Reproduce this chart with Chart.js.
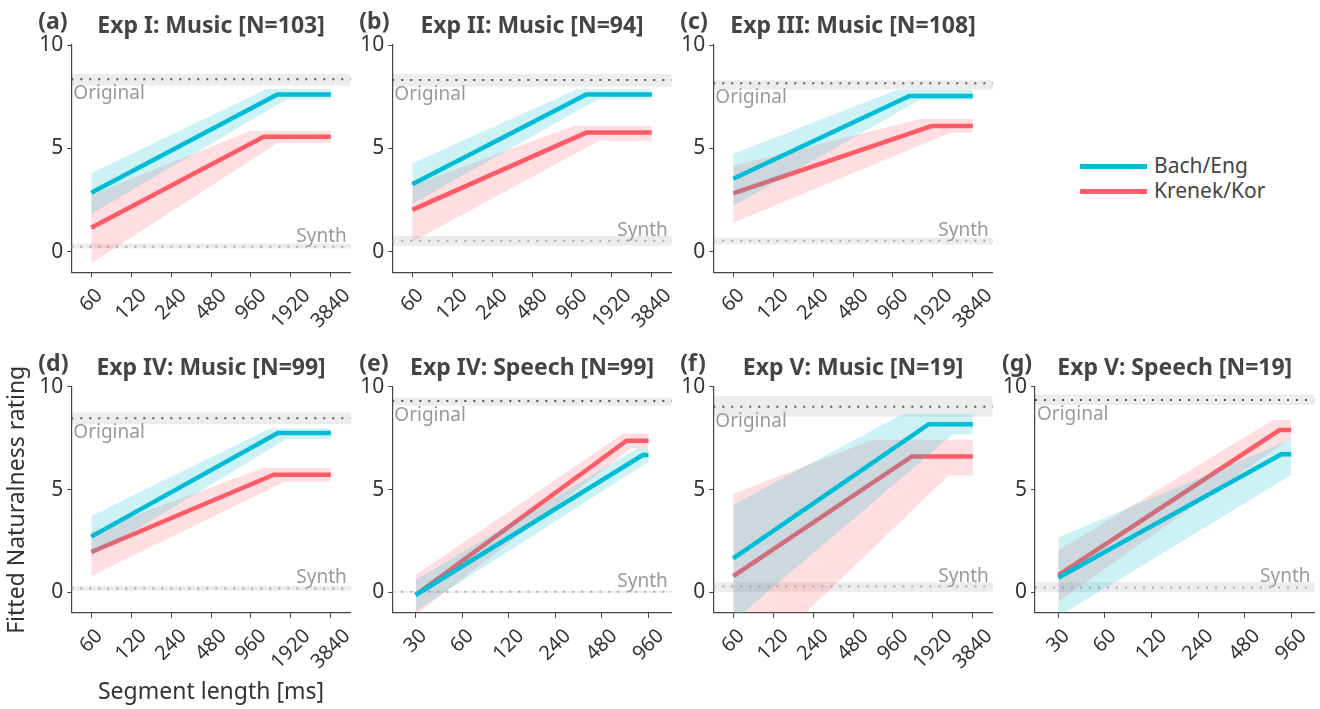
<!DOCTYPE html>
<html>
<head>
<meta charset="utf-8">
<script src="https://cdn.jsdelivr.net/npm/chart.js@4.4.1/dist/chart.umd.min.js"></script>
<style>
  body { margin: 0; width: 1320px; height: 709px; background: #fff; position: relative; overflow: hidden; font-family: 'Noto Sans', sans-serif; }
  canvas { position: absolute; }
  .key-bar { position: absolute; left: 1080px; width: 67px; height: 4.5px; }
  .key-text { position: absolute; left: 1154px; font-size: 21px; color: #444; line-height: 24px; }
</style>
</head>
<body>
<div class="key-bar" style="top:164px;background:#00bcd4"></div>
<div class="key-text" style="top:153px">Bach/Eng</div>
<div class="key-bar" style="top:189px;background:#ff5a67"></div>
<div class="key-text" style="top:178px">Krenek/Kor</div>
<script>
// tick values
const musicTicks = [60, 120, 240, 480, 960, 1920, 3840];
const speechTicks = [30, 60, 120, 240, 480, 960];
const yTicks = [0, 5, 10];

const panelLetters = ['(a)', '(b)', '(c)', '(d)', '(e)', '(f)', '(g)'];
const panelTitles = [
  'Exp I: Music [N=103]', 'Exp II: Music [N=94]', 'Exp III: Music [N=108]',
  'Exp IV: Music [N=99]', 'Exp IV: Speech [N=99]', 'Exp V: Music [N=19]', 'Exp V: Speech [N=19]'
];
const panelStimuli = ['music', 'music', 'music', 'music', 'speech', 'music', 'speech'];

// reference levels (mean and band)
const originalMean = [8.34, 8.31, 8.15, 8.46, 9.30, 9.03, 9.35];
const originalLow  = [8.03, 7.98, 7.85, 8.18, 9.08, 8.54, 9.11];
const originalHigh = [8.60, 8.60, 8.30, 8.75, 9.48, 9.55, 9.63];
const synthMean = [0.24, 0.53, 0.53, 0.19, 0.03, 0.28, 0.24];
const synthLow  = [0.15, 0.29, 0.35, 0.08, -0.02, 0.03, 0.00];
const synthHigh = [0.39, 0.76, 0.69, 0.31, 0.08, 0.49, 0.49];

// fitted lines: [segment length ms, rating]
const bachFit = [
  [[60, 2.85], [1517, 7.61], [3840, 7.61]],
  [[60, 3.26], [1232, 7.60], [3840, 7.60]],
  [[60, 3.53], [1277, 7.53], [3840, 7.53]],
  [[60, 2.71], [1530, 7.75], [3840, 7.75]],
  [[30, -0.13], [882, 6.68], [960, 6.68]],
  [[60, 1.65], [1786, 8.18], [3840, 8.18]],
  [[30, 0.71], [829, 6.71], [960, 6.71]]
];
const bachUpper = [
  [[60, 3.79], [1249, 7.86], [3840, 7.86]],
  [[60, 4.27], [1037, 7.85], [3840, 7.85]],
  [[60, 4.73], [1013, 7.82], [3840, 7.82]],
  [[60, 3.71], [1327, 7.97], [3840, 7.97]],
  [[30, 0.60], [807, 7.00], [960, 7.00]],
  [[60, 4.25], [1135, 8.67], [3840, 8.67]],
  [[30, 2.67], [960, 7.45]]
];
const bachLower = [
  [[60, 1.82], [1793, 7.37], [3840, 7.37]],
  [[60, 2.30], [1507, 7.37], [3840, 7.37]],
  [[60, 2.21], [1517, 7.34], [3840, 7.34]],
  [[60, 1.73], [1770, 7.44], [3840, 7.44]],
  [[30, -0.90], [936, 6.30], [960, 6.30]],
  [[60, -1.40], [2712, 7.68], [3840, 7.68]],
  [[30, -1.18], [960, 5.70]]
];
const krenekFit = [
  [[60, 1.16], [1198, 5.56], [3840, 5.56]],
  [[60, 2.02], [1232, 5.76], [3840, 5.76]],
  [[60, 2.82], [1880, 6.08], [3840, 6.08]],
  [[60, 1.96], [1424, 5.72], [3840, 5.72]],
  [[30, -0.13], [693, 7.37], [960, 7.37]],
  [[60, 0.79], [1331, 6.61], [3840, 6.61]],
  [[30, 0.84], [807, 7.89], [960, 7.89]]
];
const krenekUpper = [
  [[60, 2.74], [940, 5.84], [3840, 5.84]],
  [[60, 3.20], [980, 6.08], [3840, 6.08]],
  [[60, 4.16], [1537, 6.42], [3840, 6.42]],
  [[60, 2.95], [1182, 6.05], [3840, 6.05]],
  [[30, 0.84], [660, 7.73], [960, 7.73]],
  [[60, 4.78], [674, 7.42], [3840, 7.42]],
  [[30, 2.03], [732, 8.38], [960, 8.38]]
];
const krenekLower = [
  [[60, -0.56], [1533, 5.27], [3840, 5.27]],
  [[60, 0.48], [1537, 5.37], [3840, 5.37]],
  [[60, 1.40], [2640, 5.76], [3840, 5.76]],
  [[60, 0.79], [1721, 5.38], [3840, 5.38]],
  [[30, -1.10], [738, 7.00], [960, 7.00]],
  [[60, -4.40], [2520, 5.68], [3840, 5.68]],
  [[30, -0.45], [915, 7.41], [960, 7.41]]
];

// layout of plot areas on the page
const plotLeft = [71.3, 392.3, 713.3, 71.3, 392.3, 713.3, 1035];
const plotTop = [45, 45, 45, 386.7, 386.7, 386.7, 386.7];
const plotH = [227.3, 227.3, 227.3, 226.2, 226.2, 226.2, 226.2];
const plotW = 279.5;

const BLUE = '#00bcd4';
const RED = '#ff5a67';
const NONE = 'rgba(0,0,0,0)';
const TICK_SIZE = 20;

Chart.defaults.font.family = "'Noto Sans', sans-serif";
Chart.defaults.color = '#333';

// titles, reference labels and the 45° x tick labels (centred under each tick)
const panelText = {
  id: 'panelText',
  afterDraw(chart, args, opts) {
    const { ctx, chartArea: a } = chart;
    const y = chart.scales.y;
    const x = chart.scales.x;
    ctx.save();
    ctx.fillStyle = '#999';
    ctx.font = "19px 'Noto Sans'";
    ctx.textAlign = 'left';
    ctx.textBaseline = 'top';
    ctx.fillText('Original', a.left + 2, y.getPixelForValue(opts.original) + 5);
    ctx.textAlign = 'right';
    ctx.textBaseline = 'alphabetic';
    ctx.fillText('Synth', a.right - 4, y.getPixelForValue(opts.synth) - 5);

    ctx.fillStyle = '#333';
    ctx.font = TICK_SIZE + "px 'Noto Sans'";
    ctx.textAlign = 'center';
    ctx.textBaseline = 'middle';
    x.ticks.forEach(t => {
      const label = String(t.value);
      const w = ctx.measureText(label).width;
      const bh = (w + TICK_SIZE * 0.72) * Math.SQRT1_2;
      ctx.save();
      ctx.translate(x.getPixelForValue(t.value), a.bottom + 15 + bh / 2);
      ctx.rotate(-Math.PI / 4);
      ctx.fillText(label, 0, 0);
      ctx.restore();
    });

    ctx.fillStyle = '#444';
    ctx.font = "bold 23px 'Noto Sans'";
    ctx.textAlign = 'center';
    ctx.textBaseline = 'alphabetic';
    ctx.fillText(opts.title, (a.left + a.right) / 2, a.top - 12);
    ctx.textAlign = 'left';
    ctx.fillText(opts.letter, a.left - 33, a.top - 16);
    ctx.restore();
  }
};

const pts = arr => arr.map(([x, y]) => ({ x, y }));

panelTitles.forEach((title, i) => {
  const ticks = panelStimuli[i] === 'music' ? musicTicks : speechTicks;
  const xMin = ticks[0] / Math.SQRT2;
  const xMax = ticks[ticks.length - 1] * Math.SQRT2;
  const flat = v => [{ x: xMin, y: v }, { x: xMax, y: v }];

  const isD = i === 3;
  const rowTop = plotTop[i] < 300 ? 0 : 340;
  const canvasLeft = isD ? 0 : Math.floor(plotLeft[i] - 50);
  const yW = plotLeft[i] - canvasLeft;
  const padTop = plotTop[i] - rowTop;
  const canvasH = isD ? 709 - rowTop : Math.ceil(padTop + plotH[i] + 64);
  const xH = canvasH - padTop - plotH[i];
  const canvasW = Math.ceil(yW + plotW + 12);
  const padRight = canvasW - yW - plotW;

  const cv = document.createElement('canvas');
  cv.width = canvasW;
  cv.height = canvasH;
  cv.style.left = canvasLeft + 'px';
  cv.style.top = rowTop + 'px';
  cv.style.width = canvasW + 'px';
  cv.style.height = canvasH + 'px';
  document.body.appendChild(cv);

  const line = (data, color) => ({ data: pts(data), borderColor: color, borderWidth: 4.5, pointRadius: 0, fill: false });
  const edge = (data, fill, bg) => ({ data: Array.isArray(data[0]) ? pts(data) : data, borderColor: NONE, borderWidth: 0, pointRadius: 0, fill, backgroundColor: bg || NONE, clip: 0 });

  // dataset 0 is drawn on top
  const datasets = [
    line(bachFit[i], BLUE),
    edge(bachUpper[i], false),
    edge(bachLower[i], '-1', 'rgba(0,188,212,0.2)'),
    line(krenekFit[i], RED),
    edge(krenekUpper[i], false),
    edge(krenekLower[i], '-1', 'rgba(255,90,103,0.2)'),
    { data: flat(originalMean[i]), borderColor: '#555', borderWidth: 2, borderDash: [2, 7], pointRadius: 0, fill: false },
    { data: flat(synthMean[i]), borderColor: '#aaa', borderWidth: 2, borderDash: [2, 7], pointRadius: 0, fill: false },
    edge(flat(originalHigh[i]), false),
    edge(flat(originalLow[i]), '-1', 'rgba(0,0,0,0.075)'),
    edge(flat(synthHigh[i]), false),
    edge(flat(synthLow[i]), '-1', 'rgba(0,0,0,0.075)')
  ];

  new Chart(cv, {
    type: 'line',
    data: { datasets },
    options: {
      responsive: false,
      animation: false,
      events: [],
      layout: { padding: { top: padTop, right: padRight, left: 0, bottom: 0 } },
      plugins: {
        legend: { display: false },
        tooltip: { enabled: false },
        panelText: { title, letter: panelLetters[i], original: originalMean[i], synth: synthMean[i] }
      },
      scales: {
        x: {
          type: 'logarithmic',
          bounds: 'data',
          min: xMin,
          max: xMax,
          afterBuildTicks: s => { s.ticks = ticks.map(v => ({ value: v })); },
          afterFit: s => { s.height = xH; s.paddingLeft = 0; s.paddingRight = 0; },
          ticks: { display: false, autoSkip: false },
          grid: { display: true, drawOnChartArea: false, drawTicks: true, tickLength: 5, color: '#444' },
          border: { display: true, color: '#444', width: 1.2 },
          title: { display: isD, text: 'Segment length [ms]', font: { size: 23 }, color: '#333', padding: { top: 0, bottom: 3 } }
        },
        y: {
          type: 'linear',
          min: -1,
          max: 10,
          afterBuildTicks: s => { s.ticks = yTicks.map(v => ({ value: v })); },
          afterFit: s => { s.width = yW; s.paddingTop = 0; s.paddingBottom = 0; },
          ticks: { font: { size: 21 }, color: '#333', padding: 4 },
          grid: { display: true, drawOnChartArea: false, drawTicks: true, tickLength: 4, color: '#444' },
          border: { display: true, color: '#444', width: 1.2 },
          title: { display: isD, text: 'Fitted Naturalness rating', font: { size: 23 }, color: '#333', padding: { top: 4, bottom: 0 } }
        }
      }
    },
    plugins: [panelText]
  });
});
</script>
</body>
</html>
